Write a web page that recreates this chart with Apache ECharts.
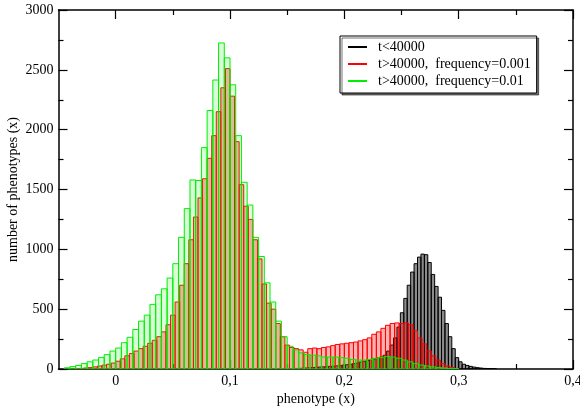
<!DOCTYPE html>
<html>
<head>
<meta charset="utf-8">
<script src="https://cdn.jsdelivr.net/npm/echarts@6/dist/echarts.min.js"></script>
<style>
  html, body { margin: 0; padding: 0; background: #fff; }
  #chart { width: 580px; height: 409px; }
</style>
</head>
<body>
<div id="chart"></div>
<script>
// ---- data ----
const seriesNames = ['t<40000', 't>40000,  frequency=0.001', 't>40000,  frequency=0.01'];
const xMajorTicks = [0, 0.1, 0.2, 0.3, 0.4];
const xMinorTicks = [0.05, 0.15, 0.25, 0.35];

// histogram t<40000 (bin width 0.003, first bin starts at 0.159)
const blackStart = 0.159;
const blackWidth = 0.003;
const blackValues = [5, 6, 8, 10, 12, 14, 16, 18, 20, 22, 24, 26, 30, 33, 36, 40, 45, 50, 58, 65,
  72, 78, 85, 92, 100, 115, 150, 200, 260, 350, 470, 590, 700, 810, 880, 935, 960, 955, 890, 790,
  690, 600, 490, 380, 270, 170, 95, 60, 40, 30, 22, 16, 11, 8, 5, 4, 3, 2];

// histogram t>40000, frequency=0.001 (bin width 0.004, first bin starts at -0.036)
const redStart = -0.036;
const redWidth = 0.004;
const redValues = [3, 5, 8, 12, 18, 25, 32, 40, 50, 65, 85, 110, 130, 150, 170, 190, 215, 240, 270, 310,
  370, 450, 560, 700, 880, 1080, 1270, 1430, 1590, 1760, 1950, 2150, 2350, 2510, 2280, 1900, 1540, 1360, 1250, 1080,
  920, 710, 550, 500, 380, 270, 200, 180, 170, 160, 140, 170, 175, 170, 180, 185, 195, 205, 210, 215,
  220, 225, 235, 245, 260, 290, 310, 340, 365, 380, 385, 380, 385, 370, 320, 260, 210, 150, 110, 75,
  45, 25, 12, 5];

// histogram t>40000, frequency=0.01 (bin width 0.005, first bin starts at -0.045)
const greenStart = -0.045;
const greenWidth = 0.005;
const greenValues = [10, 20, 30, 45, 60, 75, 95, 120, 150, 175, 220, 265, 330, 400, 450, 540, 620, 670, 760, 880,
  1100, 1340, 1580, 1575, 1850, 2160, 2415, 2725, 2600, 2375, 1950, 1560, 1370, 1100, 940, 720, 560, 400, 270, 190,
  160, 135, 120, 115, 110, 100, 100, 100, 95, 90, 80, 75, 75, 80, 90, 97, 105, 100, 90, 75,
  60, 45, 33, 25, 18, 12, 8, 5, 3];

// ---- build ----
function toBins(start, width, values) {
  return values.map((v, i) => [
    +(start + i * width).toFixed(4),
    v,
    +(start + (i + 1) * width).toFixed(4)
  ]);
}

const FONT = "'Liberation Serif', 'DejaVu Serif', serif";

function histSeries(name, bins, stroke, fill, z) {
  return {
    name: name,
    type: 'custom',
    xAxisIndex: 0,
    yAxisIndex: 0,
    z: z,
    clip: true,
    itemStyle: { color: stroke },
    encode: { x: [0, 2], y: 1 },
    data: bins,
    renderItem: function (params, api) {
      const p0 = api.coord([api.value(0), api.value(1)]);
      const p1 = api.coord([api.value(2), 0]);
      return {
        type: 'rect',
        shape: { x: p0[0], y: p0[1], width: p1[0] - p0[0], height: p1[1] - p0[1] },
        style: { fill: fill, stroke: stroke, lineWidth: 1 }
      };
    }
  };
}

const axisLineStyle = { color: '#000', width: 1.5 };
const labelStyle = { fontFamily: FONT, fontSize: 14, color: '#000' };
const tickLine = { color: '#000', width: 1.2 };

function xFormatter(v) {
  if (Math.abs(v) < 1e-9) return '0';
  return v.toFixed(1).replace('.', ',');
}
function yFormatter(v) { return String(v); }

function xAxisDef(position, ticks, len, showLine, extra) {
  return Object.assign({
    type: 'value', min: -0.05, max: 0.4, position: position,
    axisLine: { show: showLine, onZero: false, lineStyle: axisLineStyle },
    axisTick: { show: true, inside: true, length: len, lineStyle: tickLine, customValues: ticks },
    axisLabel: { show: false },
    splitLine: { show: false }
  }, extra || {});
}

const chart = echarts.init(document.getElementById('chart'), null, { renderer: 'canvas' });
chart.setOption({
  animation: false,
  backgroundColor: '#fff',
  grid: { left: 58.5, right: 7, top: 10, bottom: 40, outerBoundsMode: 'none', containLabel: false },
  xAxis: [
    xAxisDef('bottom', xMajorTicks, 9, true, {
      axisLabel: { show: true, margin: 5, formatter: xFormatter, customValues: xMajorTicks, ...labelStyle },
      name: 'phenotype (x)', nameLocation: 'middle', nameGap: 23, nameMoveOverlap: false,
      nameTextStyle: { fontFamily: FONT, fontSize: 14, color: '#000' }
    }),
    xAxisDef('bottom', xMinorTicks, 5, false),
    xAxisDef('top', xMajorTicks, 9, true),
    xAxisDef('top', xMinorTicks, 5, false)
  ],
  yAxis: [
    {
      type: 'value', min: 0, max: 3000, interval: 500, position: 'left',
      axisLine: { show: true, onZero: false, lineStyle: axisLineStyle },
      axisTick: { show: true, inside: true, length: 9, lineStyle: tickLine },
      minorTick: { show: true, splitNumber: 2, length: 5, lineStyle: tickLine },
      axisLabel: { show: true, margin: 5, formatter: yFormatter, ...labelStyle },
      splitLine: { show: false },
      minorSplitLine: { show: false },
      name: 'number of phenotypes (x)', nameLocation: 'middle', nameGap: 38, nameMoveOverlap: false,
      nameTextStyle: { fontFamily: FONT, fontSize: 14, color: '#000' }
    },
    {
      type: 'value', min: 0, max: 3000, interval: 500, position: 'right',
      axisLine: { show: true, onZero: false, lineStyle: axisLineStyle },
      axisTick: { show: true, inside: true, length: 9, lineStyle: tickLine },
      minorTick: { show: true, splitNumber: 2, length: 5, lineStyle: tickLine },
      axisLabel: { show: false },
      splitLine: { show: false },
      minorSplitLine: { show: false }
    }
  ],
  legend: {
    left: 340, top: 36, orient: 'vertical',
    itemWidth: 19, itemHeight: 2, itemGap: 3,
    padding: [4, 6, 5, 8],
    backgroundColor: '#fff', borderColor: '#000', borderWidth: 1,
    shadowColor: 'rgba(0,0,0,0.55)', shadowOffsetX: 2, shadowOffsetY: 2, shadowBlur: 0,
    textStyle: { fontFamily: FONT, fontSize: 14, color: '#000', lineHeight: 14, padding: [0, 0, 0, 6] },
    data: [
      { name: seriesNames[0], icon: 'rect', itemStyle: { color: '#000' } },
      { name: seriesNames[1], icon: 'rect', itemStyle: { color: '#ff0000' } },
      { name: seriesNames[2], icon: 'rect', itemStyle: { color: '#00ee00' } }
    ]
  },
  series: [
    histSeries(seriesNames[0], toBins(blackStart, blackWidth, blackValues), '#000', 'rgba(0,0,0,0.45)', 2),
    histSeries(seriesNames[1], toBins(redStart, redWidth, redValues), '#ff0000', 'rgba(255,0,0,0.3)', 3),
    histSeries(seriesNames[2], toBins(greenStart, greenWidth, greenValues), '#00ee00', 'rgba(0,255,0,0.15)', 4)
  ]
});
</script>
</body>
</html>
